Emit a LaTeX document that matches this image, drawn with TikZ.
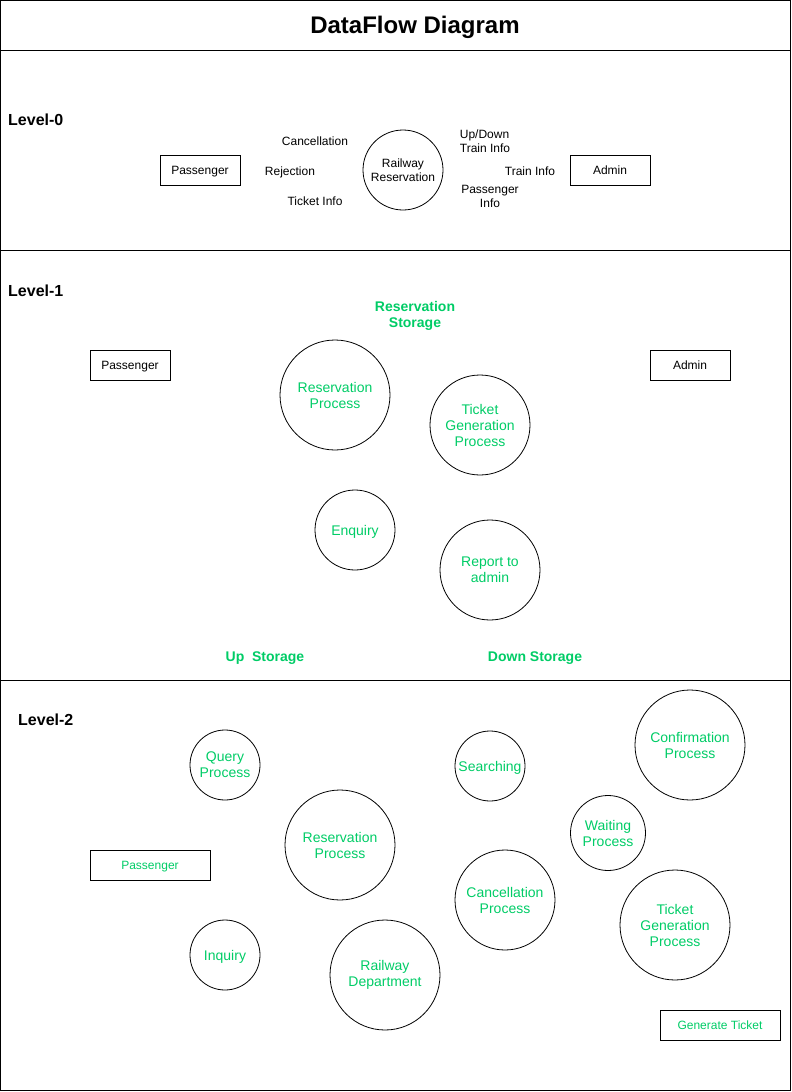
\documentclass[tikz,border=0pt]{standalone}
\usepackage{fontspec}
\setmainfont{Liberation Sans}
\definecolor{dfgreen}{RGB}{0,204,102}
\tikzset{
  lbl/.style={inner sep=0pt, align=center, font=\fontsize{12}{14}\selectfont},
  one12/.style={text height=8.6pt, text depth=0pt},
  one14/.style={text height=10pt, text depth=0pt},
  lvl/.style={inner sep=0pt, anchor=west, text height=11.5pt, text depth=0pt, font=\fontsize{16}{19}\selectfont\bfseries},
  ent/.style={draw, line width=0.8pt, minimum width=80pt, minimum height=30pt, inner sep=0pt, one12, font=\fontsize{12}{14}\selectfont},
  proc/.style={draw, line width=0.8pt, circle, inner sep=0pt, align=center, text=dfgreen, font=\fontsize{14}{16}\selectfont},
  proc0/.style={draw, line width=0.8pt, circle, inner sep=0pt, align=center, font=\fontsize{12}{14}\selectfont},
  store/.style={inner sep=0pt, align=center, text=dfgreen, font=\fontsize{14}{16}\selectfont\bfseries},
}
\begin{document}
\begin{tikzpicture}[x=1pt,y=-1pt]
\useasboundingbox (0,0) rectangle (792,1092);
% frame and section lines
\draw[line width=0.8pt] (0.5,0.5) rectangle (790.5,1090.5);
\draw[line width=0.8pt] (0.5,50) -- (790.5,50);
\draw[line width=0.8pt] (0.5,250) -- (790.5,250);
\draw[line width=0.8pt] (0.5,680) -- (790.5,680);
\node[inner sep=0pt, text height=17pt, text depth=0pt, font=\fontsize{24}{28}\selectfont\bfseries] (title) at (415,25) {DataFlow Diagram};

% Level-0
\node[lvl] (l0) at (8,120) {Level-0};
\node[ent] (p0) at (200,170) {Passenger};
\node[ent] (a0) at (610,170) {Admin};
\node[proc0, minimum size=80pt] (rr) at (403,170) {Railway\\Reservation};
\node[lbl, one12] (canc) at (315,141) {Cancellation};
\node[lbl, one12] (rej) at (290,171) {Rejection};
\node[lbl, one12] (tinfo) at (315,201) {Ticket Info};
\node[lbl, align=left] (updown) at (485,141) {Up/Down\\Train Info};
\node[lbl, one12] (trinfo) at (530,171) {Train Info};
\node[lbl] (pinfo) at (490,196) {Passenger\\Info};

% Level-1
\node[lvl] (l1) at (8,291) {Level-1};
\node[store] (rs) at (415,316) {Reservation\\Storage};
\node[ent] (p1) at (130,365) {Passenger};
\node[ent] (a1) at (690,365) {Admin};
\node[proc, minimum size=110pt] (rp1) at (335,395) {Reservation\\Process};
\node[proc, minimum size=100pt] (tg1) at (480,425) {Ticket\\Generation\\Process};
\node[proc, one14, minimum size=80pt] (enq) at (355,530) {Enquiry};
\node[proc, minimum size=100pt] (rep) at (490,570) {Report to\\admin};
\node[store, one14] (ups) at (265,656) {Up\ \ Storage};
\node[store, one14] (downs) at (535,656) {Down Storage};

% Level-2
\node[lvl] (l2) at (18,720) {Level-2};
\node[proc, minimum size=70pt] (qp) at (225,765) {Query\\Process};
\node[proc, one14, minimum size=70pt] (srch) at (490,766) {Searching};
\node[proc, minimum size=110pt] (conf) at (690,745) {Confirmation\\Process};
\node[proc, minimum size=110pt] (rp2) at (340,845) {Reservation\\Process};
\node[ent, minimum width=120pt, text=dfgreen] (p2) at (150,865) {Passenger};
\node[proc, minimum size=75pt] (wait) at (608,833) {Waiting\\Process};
\node[proc, minimum size=100pt] (cp) at (505,900) {Cancellation\\Process};
\node[proc, minimum size=110pt] (tg2) at (675,925) {Ticket\\Generation\\Process};
\node[proc, one14, minimum size=70pt] (inq) at (225,955) {Inquiry};
\node[proc, minimum size=110pt] (rd) at (385,975) {Railway\\Department};
\node[ent, minimum width=120pt, text=dfgreen] (gt) at (720,1025) {Generate Ticket};
\end{tikzpicture}
\end{document}
